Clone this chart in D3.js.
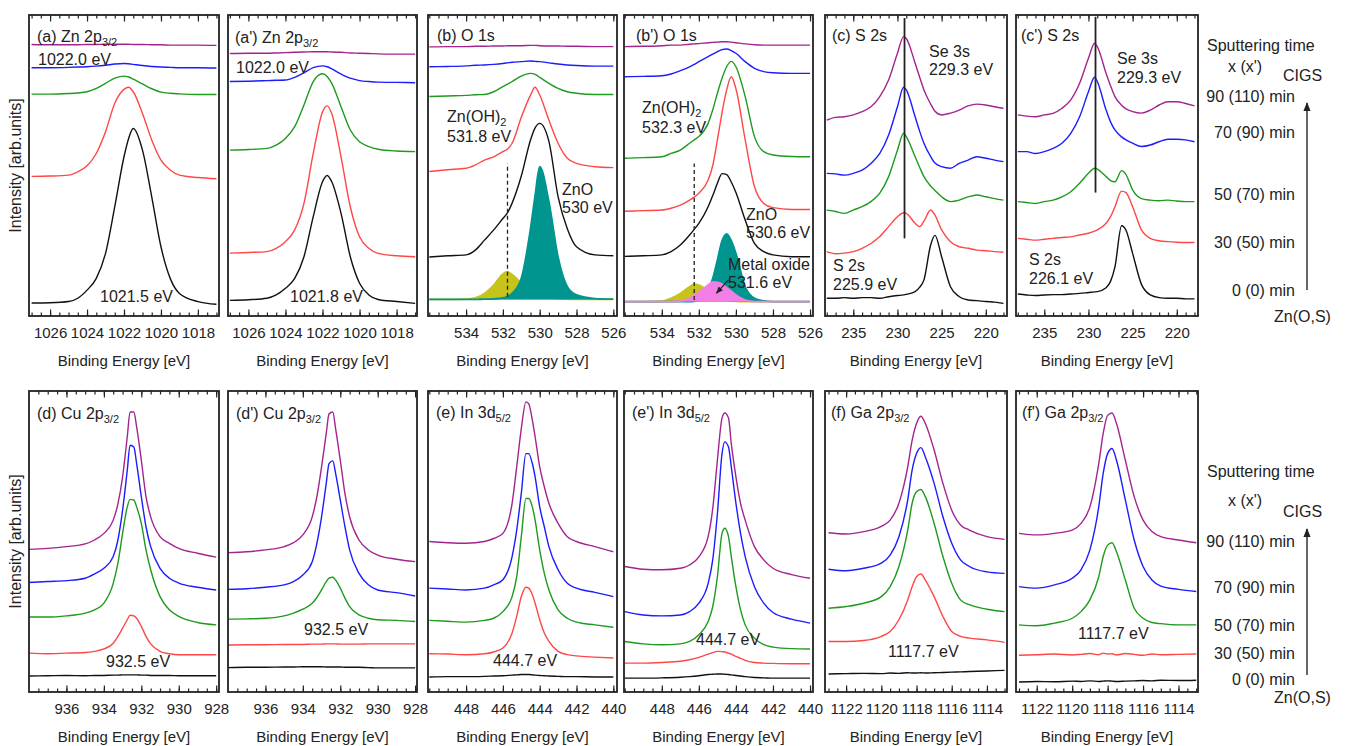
<!DOCTYPE html>
<html>
<head>
<meta charset="utf-8">
<script src="https://cdn.jsdelivr.net/npm/d3@7"></script>
<style>
  body { margin: 0; background: #fff; }
  svg text { font-family: "Liberation Sans", Arial, sans-serif; fill: #222; }
</style>
</head>
<body>
<svg id="chart" width="1354" height="746"></svg>
<script>
// intensities are read off the picture, in % of panel height (0 = bottom, 100 = top)
// every spectra list is ordered by sputtering time: 0, 30, 50, 70, 90 min
var timeLabels = ['0 (0) min', '30 (50) min', '50 (70) min', '70 (90) min', '90 (110) min'];

var ticksZn = [1026, 1024, 1022, 1020, 1018];
var ticksO = [534, 532, 530, 528, 526];
var ticksS = [235, 230, 225, 220];
var ticksCu = [936, 934, 932, 930, 928];
var ticksIn = [448, 446, 444, 442, 440];
var ticksGa = [1122, 1120, 1118, 1116, 1114];

var energyZn = [1027, 1026, 1025, 1024.5, 1024, 1023.5, 1023, 1022.5, 1022, 1021.75, 1021.5, 1021, 1020.5, 1020, 1019.5, 1019, 1018, 1017];
var spectraA = [
  [4.3, 4.4, 4.8, 5.9, 8.6, 12.5, 20.8, 36.3, 52.9, 59.0, 62.3, 55.1, 39.6, 23.0, 12.5, 7.5, 4.8, 3.9],
  [46.4, 46.5, 46.8, 47.9, 49.9, 54.0, 61.2, 70.7, 75.3, 76.0, 74.5, 67.3, 58.5, 51.8, 48.5, 46.8, 46.0, 45.6],
  [73.7, 73.7, 73.9, 74.1, 74.5, 75.6, 77.3, 79.0, 79.7, 79.4, 78.7, 77.1, 75.5, 74.4, 74.0, 73.8, 73.6, 73.6],
  [82.5, 82.5, 82.6, 82.7, 82.8, 83.0, 83.3, 83.7, 83.9, 83.8, 83.6, 83.2, 82.9, 82.7, 82.6, 82.5, 82.5, 82.4],
  [90.2, 90.1, 90.1, 90.1, 90.2, 90.2, 90.3, 90.3, 90.3, 90.3, 90.2, 90.2, 90.1, 90.1, 90.0, 90.0, 90.0, 89.9]
];
var spectraA2 = [
  [5.2, 5.4, 5.9, 7.0, 9.2, 12.5, 19.7, 33.0, 44.6, 46.7, 44.6, 34.1, 19.7, 10.9, 7.0, 5.5, 4.8, 4.2],
  [20.9, 21.1, 21.4, 22.5, 24.7, 28.6, 37.4, 54.0, 67.8, 69.8, 67.2, 52.9, 36.3, 26.3, 22.5, 20.8, 20.0, 19.7],
  [55.1, 55.3, 55.7, 56.8, 59.0, 62.9, 70.1, 77.9, 80.5, 79.6, 77.3, 69.5, 61.8, 57.9, 56.3, 55.4, 54.8, 54.6],
  [77.9, 78.0, 78.2, 78.3, 78.4, 79.3, 80.8, 82.5, 83.1, 82.8, 82.1, 80.4, 79.0, 78.2, 77.9, 77.7, 77.6, 77.5],
  [87.2, 87.3, 87.3, 87.4, 87.5, 87.6, 87.7, 87.8, 87.8, 87.8, 87.7, 87.6, 87.4, 87.3, 87.2, 87.1, 87.0, 87.0]
];

var energyOb = [536, 535, 534, 533.5, 533, 532.5, 532, 531.75, 531.5, 531, 530.5, 530.25, 530, 529.5, 529, 528.5, 528, 527, 526];
var spectraB = [
  [19.6, 20.0, 20.3, 21.9, 25.2, 28.6, 32.4, 34.3, 37.5, 46.5, 58.5, 62.5, 64.0, 58.0, 39.6, 29.0, 23.0, 20.3, 20.0],
  [48.0, 48.6, 49.1, 50.2, 51.8, 52.9, 54.6, 55.5, 57.4, 66.0, 73.4, 76.0, 73.4, 65.1, 57.4, 52.4, 50.7, 49.6, 49.3],
  [72.9, 73.1, 73.3, 73.5, 73.6, 74.5, 76.2, 77.0, 77.9, 79.7, 80.6, 80.3, 79.3, 77.3, 75.6, 74.5, 74.0, 73.6, 73.6],
  [82.8, 82.9, 83.1, 83.3, 83.4, 83.6, 83.9, 84.1, 84.3, 84.5, 84.7, 84.6, 84.5, 84.1, 83.7, 83.4, 83.2, 83.0, 83.0],
  [89.4, 89.5, 89.5, 89.6, 89.6, 89.7, 89.7, 89.8, 89.8, 89.8, 89.9, 89.9, 89.8, 89.7, 89.7, 89.6, 89.6, 89.5, 89.5]
];
var fitB_ZnOH2 = [5.5, 5.5, 5.6, 6.0, 7.5, 10.3, 14.0, 14.7, 13.8, 10.9, 8.1, 7.2, 6.6, 6.0, 5.7, 5.6, 5.5, 5.5, 5.5];
var fitB_ZnO = [5.5, 5.5, 5.5, 5.5, 5.6, 5.7, 6.0, 6.5, 7.5, 12.5, 29.0, 40.0, 49.6, 38.0, 19.5, 9.7, 7.0, 5.8, 5.6];

var energyOb2 = [536, 535, 534, 533.5, 533, 532.5, 532.25, 532, 531.5, 531.25, 531, 530.75, 530.5, 530.25, 530, 529.5, 529, 528.5, 528, 527, 526];
var spectraB2 = [
  [19.8, 20.0, 20.3, 21.4, 23.6, 26.9, 28.8, 30.8, 36.3, 40.0, 44.1, 47.3, 47.0, 44.5, 41.0, 31.9, 24.1, 21.4, 20.3, 19.7, 19.7],
  [34.8, 35.0, 35.2, 35.8, 36.8, 38.5, 39.5, 40.8, 45.2, 50.0, 58.5, 67.5, 75.1, 79.5, 75.5, 58.5, 43.0, 37.4, 36.0, 35.4, 35.4],
  [52.4, 52.6, 52.9, 54.0, 55.1, 57.4, 58.5, 59.6, 64.0, 68.5, 74.0, 79.0, 82.8, 84.6, 82.8, 72.9, 59.6, 54.6, 53.5, 53.0, 52.9],
  [79.5, 79.6, 79.8, 80.4, 81.5, 82.8, 83.6, 84.5, 86.2, 87.0, 87.8, 88.5, 88.7, 88.2, 87.3, 84.5, 82.3, 81.2, 80.8, 80.6, 80.6],
  [89.5, 89.6, 89.8, 90.0, 90.0, 90.3, 90.4, 90.5, 90.8, 90.9, 91.0, 91.1, 91.1, 91.0, 90.8, 90.4, 90.1, 90.0, 90.0, 90.0, 90.0]
];
var fitB2_ZnOH2 = [4.8, 4.8, 4.9, 5.9, 7.5, 9.7, 10.6, 10.3, 8.6, 7.6, 6.4, 5.8, 5.3, 5.0, 4.9, 4.8, 4.8, 4.8, 4.8, 4.8, 4.8];
var fitB2_ZnO = [4.8, 4.8, 4.8, 4.8, 4.8, 4.8, 4.9, 5.3, 8.6, 12.5, 18.6, 25.0, 27.3, 25.0, 20.8, 9.7, 5.9, 5.0, 4.8, 4.8, 4.8];
var fitB2_Metal = [4.8, 4.8, 4.8, 4.8, 4.9, 5.9, 6.8, 7.8, 10.3, 11.3, 11.2, 10.6, 9.4, 8.2, 7.0, 5.3, 4.8, 4.8, 4.8, 4.8, 4.8];

var energyS = [238, 237, 236, 235, 234, 233, 232, 231, 230, 229.3, 229, 228, 227.5, 227, 226.25, 225.75, 225, 224, 223, 222, 221, 220, 219, 218];
var spectraC = [
  [5.9, 5.9, 6.1, 5.9, 6.1, 6.1, 5.9, 6.4, 6.8, 7.0, 7.2, 8.1, 9.5, 12.0, 23.5, 26.8, 19.7, 9.7, 6.4, 5.3, 5.1, 4.8, 4.6, 4.2],
  [21.4, 20.7, 20.9, 21.4, 22.5, 24.1, 26.4, 29.7, 33.0, 34.3, 34.1, 30.8, 29.7, 31.5, 35.2, 33.5, 28.6, 24.7, 23.0, 22.5, 21.9, 21.7, 21.4, 21.2],
  [35.2, 34.7, 34.1, 35.2, 36.3, 38.0, 40.8, 46.3, 55.1, 60.7, 59.6, 52.9, 49.5, 46.3, 43.2, 41.7, 39.6, 38.0, 38.5, 39.6, 40.2, 39.6, 39.0, 38.5],
  [47.4, 47.2, 46.8, 47.4, 48.5, 50.7, 54.0, 60.1, 69.5, 76.0, 75.1, 66.2, 61.5, 57.4, 53.0, 50.8, 49.6, 49.1, 50.7, 51.8, 52.9, 52.4, 51.8, 51.3],
  [65.1, 66.0, 66.2, 66.8, 67.9, 69.5, 72.9, 78.4, 87.3, 92.8, 92.2, 84.0, 79.5, 75.1, 70.5, 68.0, 66.8, 67.4, 68.4, 69.8, 70.4, 70.1, 69.5, 69.0]
];
var spectraC2 = [
  [7.3, 7.0, 6.8, 7.0, 7.1, 7.1, 7.3, 7.5, 7.8, 8.0, 8.1, 9.4, 11.5, 16.3, 30.0, 28.5, 20.8, 10.5, 7.0, 6.1, 5.9, 5.9, 5.7, 5.7],
  [25.8, 25.5, 25.2, 25.5, 25.8, 26.1, 26.3, 26.9, 27.5, 28.2, 28.6, 30.8, 33.0, 36.3, 41.5, 41.0, 36.3, 28.6, 25.8, 25.0, 24.7, 24.5, 24.4, 24.4],
  [38.0, 37.7, 37.4, 38.0, 38.5, 39.6, 41.3, 44.1, 47.4, 49.1, 48.8, 46.3, 45.0, 44.6, 48.3, 47.0, 41.9, 39.0, 38.5, 38.3, 38.5, 38.2, 38.0, 38.0],
  [54.6, 54.6, 54.0, 54.6, 55.7, 57.4, 60.7, 66.2, 74.5, 79.3, 77.9, 68.4, 64.5, 61.8, 59.5, 58.5, 57.4, 56.3, 56.8, 57.9, 58.7, 58.7, 58.5, 57.9],
  [66.8, 66.4, 66.2, 66.8, 67.3, 69.0, 71.8, 77.3, 85.6, 90.6, 89.5, 80.6, 76.5, 72.9, 70.0, 68.8, 67.9, 67.4, 68.4, 70.1, 71.2, 71.2, 70.6, 69.8]
];

var energyCu = [938, 937, 936, 935, 934.5, 934, 933.5, 933.25, 933, 932.75, 932.6, 932.4, 932.25, 932, 931.75, 931.5, 931, 930.5, 930, 929, 928];
var spectraD = [
  [5.3, 5.4, 5.5, 5.4, 5.5, 5.5, 5.6, 5.6, 5.7, 5.7, 5.7, 5.7, 5.7, 5.6, 5.6, 5.5, 5.5, 5.5, 5.4, 5.4, 5.4],
  [12.9, 12.7, 12.9, 13.1, 13.5, 14.3, 16.2, 18.5, 21.2, 24.0, 25.5, 25.3, 24.5, 21.8, 18.5, 16.0, 13.5, 12.7, 12.4, 12.4, 12.4],
  [24.9, 24.9, 25.3, 26.2, 27.3, 29.5, 36.1, 42.8, 52.7, 61.5, 64.0, 63.8, 61.5, 56.0, 47.2, 40.6, 31.7, 27.3, 25.1, 23.1, 22.3],
  [36.4, 36.7, 37.0, 37.8, 39.2, 41.1, 45.0, 50.5, 60.4, 73.7, 82.0, 81.4, 75.9, 64.9, 54.9, 48.3, 41.1, 37.8, 36.2, 34.8, 33.9],
  [47.4, 47.7, 48.3, 49.2, 50.5, 52.7, 57.1, 62.5, 71.5, 84.8, 93.0, 93.0, 88.1, 77.0, 64.9, 58.2, 51.6, 49.4, 47.7, 46.1, 44.8]
];
var spectraD2 = [
  [8.1, 8.2, 8.2, 8.3, 8.3, 8.4, 8.4, 8.4, 8.4, 8.3, 8.3, 8.3, 8.3, 8.3, 8.2, 8.2, 8.2, 8.1, 8.0, 8.0, 8.0],
  [15.6, 15.7, 15.7, 15.8, 15.8, 15.8, 15.9, 15.9, 15.9, 16.0, 16.0, 16.0, 16.0, 15.9, 15.9, 15.9, 15.9, 16.0, 16.0, 16.0, 16.0],
  [24.2, 24.3, 24.5, 25.3, 26.2, 27.5, 29.5, 31.4, 33.9, 36.7, 37.8, 38.1, 37.2, 34.5, 31.2, 28.4, 25.6, 24.5, 24.0, 23.8, 23.4],
  [34.1, 34.3, 34.8, 35.6, 36.7, 38.9, 43.3, 49.4, 58.2, 69.3, 75.9, 76.8, 72.6, 63.8, 54.9, 47.2, 39.4, 35.6, 33.9, 33.0, 31.9],
  [46.3, 46.6, 47.2, 48.3, 49.6, 52.2, 58.2, 64.9, 74.8, 85.9, 92.4, 93.0, 87.5, 77.0, 65.9, 58.2, 50.5, 47.2, 45.5, 44.1, 43.3]
];

var energyIn = [450, 449, 448, 447, 446.5, 446, 445.5, 445.25, 445, 444.75, 444.6, 444.4, 444.25, 444, 443.75, 443.5, 443, 442.5, 442, 441, 440];
var spectraE = [
  [5.0, 5.1, 5.1, 5.2, 5.3, 5.4, 5.6, 5.7, 5.8, 5.8, 5.8, 5.7, 5.6, 5.5, 5.4, 5.3, 5.2, 5.1, 5.1, 5.0, 5.0],
  [12.7, 12.6, 12.4, 12.7, 13.3, 14.6, 19.6, 25.1, 31.7, 34.8, 34.5, 32.3, 29.5, 24.0, 19.6, 16.8, 13.5, 12.4, 12.0, 11.6, 11.3],
  [23.8, 23.5, 23.2, 23.8, 24.5, 26.7, 31.7, 38.3, 51.6, 64.3, 64.3, 61.5, 57.1, 47.2, 39.4, 33.9, 27.3, 24.5, 23.2, 22.3, 21.5],
  [34.5, 34.2, 33.9, 34.5, 35.6, 37.3, 45.0, 53.8, 66.0, 79.2, 79.2, 75.9, 71.5, 61.5, 54.9, 48.3, 40.6, 36.1, 34.5, 33.1, 31.7],
  [50.0, 49.6, 49.4, 50.0, 51.0, 52.7, 62.7, 74.8, 87.5, 96.4, 95.8, 90.3, 84.8, 74.8, 68.2, 62.7, 56.0, 51.6, 50.0, 48.3, 46.6]
];
var spectraE2 = [
  [4.6, 4.6, 4.7, 4.9, 5.1, 5.4, 5.8, 5.9, 6.0, 6.0, 5.9, 5.8, 5.7, 5.5, 5.3, 5.1, 4.8, 4.7, 4.6, 4.6, 4.6],
  [9.6, 9.6, 9.8, 10.2, 10.7, 11.5, 12.6, 13.1, 13.5, 13.4, 13.3, 12.9, 12.6, 11.8, 11.2, 10.5, 9.8, 9.6, 9.5, 9.4, 9.4],
  [16.8, 16.0, 15.7, 16.0, 16.8, 19.0, 23.4, 28.4, 38.3, 52.7, 54.4, 51.6, 45.0, 35.0, 27.3, 22.3, 17.9, 15.7, 14.9, 14.4, 14.3],
  [26.7, 25.6, 25.3, 25.6, 26.7, 29.5, 36.1, 44.0, 59.2, 79.2, 83.1, 81.4, 74.8, 62.7, 52.7, 45.0, 35.0, 29.5, 26.4, 24.2, 22.9],
  [41.7, 40.8, 40.6, 41.1, 42.2, 44.9, 51.6, 61.0, 77.0, 91.0, 92.7, 91.0, 82.5, 71.5, 62.7, 57.1, 48.3, 43.9, 41.1, 39.0, 37.8]
];

var energyGa = [1123, 1122, 1121, 1120, 1119.5, 1119, 1118.5, 1118.25, 1118, 1117.75, 1117.5, 1117, 1116.5, 1116, 1115.5, 1115, 1114, 1113];
var spectraF = [
  [6.0, 6.1, 6.2, 6.1, 6.3, 6.2, 6.4, 6.3, 6.3, 6.4, 6.3, 6.4, 6.5, 6.6, 6.7, 6.8, 7.0, 7.2],
  [16.8, 16.8, 17.1, 18.5, 20.1, 24.0, 30.6, 35.0, 38.3, 39.2, 37.2, 31.7, 25.1, 20.1, 18.5, 17.9, 17.3, 16.5],
  [27.8, 28.4, 29.5, 31.7, 35.0, 41.7, 53.8, 62.7, 66.5, 67.3, 64.9, 56.0, 45.0, 36.1, 30.6, 29.0, 27.5, 26.7],
  [40.8, 40.3, 41.1, 42.8, 45.5, 51.6, 63.8, 73.7, 79.2, 81.2, 78.1, 69.3, 58.2, 49.4, 43.9, 41.7, 39.9, 39.4],
  [52.9, 52.5, 53.3, 55.0, 57.1, 62.7, 74.8, 83.6, 89.2, 91.6, 89.2, 80.4, 69.3, 60.4, 55.5, 53.8, 51.6, 50.7]
];
var spectraF2 = [
  [3.3, 3.5, 3.4, 3.6, 3.5, 3.7, 3.5, 3.6, 3.7, 3.6, 3.5, 3.6, 3.7, 3.8, 3.7, 3.9, 3.8, 3.9],
  [12.2, 12.4, 12.6, 12.3, 12.5, 12.8, 12.4, 12.9, 12.6, 12.7, 12.3, 12.8, 12.5, 12.2, 12.6, 12.4, 12.5, 12.6],
  [22.3, 22.0, 22.9, 24.5, 26.7, 30.6, 38.3, 45.0, 48.8, 49.6, 46.6, 37.2, 27.8, 24.5, 23.1, 22.7, 22.3, 22.3],
  [35.0, 34.5, 35.6, 37.8, 40.6, 47.2, 61.5, 72.6, 79.2, 80.9, 77.0, 63.8, 50.5, 41.7, 37.2, 35.2, 34.1, 33.4],
  [52.7, 52.2, 52.7, 53.8, 56.0, 61.5, 75.9, 85.9, 91.9, 92.7, 89.2, 77.0, 64.9, 57.1, 53.3, 51.6, 50.5, 49.6]
];

// styling
var lineColors = ['#111111', '#ff4747', '#1e9a1e', '#1c1cff', '#a3248e'];
var fillColors = { yellow: '#c6c41c', teal: '#00958f', pink: '#f27ee6' };
var PH = 301;

var panels = [
  { x: 29, y: 15, w: 190, dom: [1027.14, 1016.86], major: ticksZn, minor: 0.5, energy: energyZn, spectra: spectraA,
    title: ['(a) Zn 2p', '3/2'], tx: 8, ty: 27, ylabel: true,
    notes: [['1022.0 eV', 9, 50], ['1021.5 eV', 71, 287]] },
  { x: 228, y: 15, w: 189, dom: [1027.1, 1016.9], major: ticksZn, minor: 0.5, energy: energyZn, spectra: spectraA2,
    title: ["(a') Zn 2p", '3/2'], tx: 7, ty: 28,
    notes: [['1022.0 eV', 8, 58], ['1021.8 eV', 62, 287]] },
  { x: 428, y: 15, w: 189, dom: [536.07, 525.8], major: ticksO, minor: 0.5, energy: energyOb, spectra: spectraB,
    fills: [[fitB_ZnOH2, 'yellow', 5.5], [fitB_ZnO, 'teal', 5.5]],
    vline: [531.75, 6.4, 50.7, true],
    title: ['(b) O 1s', ''], tx: 9, ty: 26,
    notes: [['Zn(OH)', 19, 107, '2'], ['531.8 eV', 19, 127], ['ZnO', 134, 180], ['530 eV', 134, 198]] },
  { x: 624, y: 15, w: 189, dom: [536.04, 525.84], major: ticksO, minor: 0.5, energy: energyOb2, spectra: spectraB2,
    fills: [[fitB2_ZnOH2, 'yellow', 4.8], [fitB2_ZnO, 'teal', 4.8], [fitB2_Metal, 'pink', 4.8]],
    vline: [532.25, 5.3, 50.7, true], arrow: [530.4, 12.0, 531.05, 7.6],
    title: ["(b') O 1s", ''], tx: 12, ty: 26,
    notes: [['Zn(OH)', 18, 98, '2'], ['532.3 eV', 18, 118], ['ZnO', 122, 205], ['530.6 eV', 122, 223],
            ['Metal oxide', 104, 255], ['531.6 eV', 104, 273]] },
  { x: 825, y: 15, w: 182, dom: [238.2, 217.6], major: ticksS, minor: 1, energy: energyS, spectra: spectraC,
    vline: [229.2, 25.8, 99, false],
    title: ['(c) S 2s', ''], tx: 7, ty: 26,
    notes: [['Se 3s', 104, 42], ['229.3 eV', 104, 60], ['S 2s', 8, 256], ['225.9 eV', 8, 275]] },
  { x: 1016, y: 15, w: 182, dom: [238.2, 217.6], major: ticksS, minor: 1, energy: energyS, spectra: spectraC2,
    vline: [229.2, 41.0, 99.4, false],
    title: ["(c') S 2s", ''], tx: 5, ty: 26,
    notes: [['Se 3s', 101, 49], ['229.3 eV', 101, 68], ['S 2s', 13, 250], ['226.1 eV', 13, 269]] },
  { x: 29, y: 391, w: 190, dom: [938.0, 927.85], major: ticksCu, minor: 0.5, energy: energyCu, spectra: spectraD,
    title: ['(d) Cu 2p', '3/2'], tx: 8, ty: 28, ylabel: true,
    notes: [['932.5 eV', 77, 276]] },
  { x: 228, y: 391, w: 189, dom: [938.0, 927.9], major: ticksCu, minor: 0.5, energy: energyCu, spectra: spectraD2,
    title: ["(d') Cu 2p", '3/2'], tx: 8, ty: 28,
    notes: [['932.5 eV', 76, 244]] },
  { x: 428, y: 391, w: 189, dom: [450.07, 439.8], major: ticksIn, minor: 0.5, energy: energyIn, spectra: spectraE,
    title: ['(e) In 3d', '5/2'], tx: 8, ty: 27,
    notes: [['444.7 eV', 65, 275]] },
  { x: 624, y: 391, w: 189, dom: [450.04, 439.84], major: ticksIn, minor: 0.5, energy: energyIn, spectra: spectraE2,
    title: ["(e') In 3d", '5/2'], tx: 8, ty: 27,
    notes: [['444.7 eV', 72, 254]] },
  { x: 825, y: 391, w: 182, dom: [1123.2, 1112.86], major: ticksGa, minor: 0.5, energy: energyGa, spectra: spectraF,
    title: ['(f) Ga 2p', '3/2'], tx: 6, ty: 27,
    notes: [['1117.7 eV', 63, 266]] },
  { x: 1016, y: 391, w: 182, dom: [1123.17, 1112.9], major: ticksGa, minor: 0.5, energy: energyGa, spectra: spectraF2,
    title: ["(f') Ga 2p", '3/2'], tx: 6, ty: 27,
    notes: [['1117.7 eV', 62, 248]] }
];

var svg = d3.select('#chart');

svg.append('defs').append('marker')
  .attr('id', 'head').attr('viewBox', '0 0 10 10').attr('refX', 9).attr('refY', 5)
  .attr('markerWidth', 6).attr('markerHeight', 6).attr('orient', 'auto')
  .append('path').attr('d', 'M0,1 L10,5 L0,9 Z').attr('fill', '#222');

var addText = function (g, txt, x, y, sub, size) {
  var t = g.append('text').attr('x', x).attr('y', y).style('font-size', (size || 16) + 'px').text(txt);
  if (sub) {
    t.append('tspan').attr('dy', 4).style('font-size', '11px').text(sub);
  }
  return t;
};

panels.forEach(function (p) {
  var g = svg.append('g').attr('transform', 'translate(' + p.x + ',' + p.y + ')');
  var x = d3.scaleLinear().domain(p.dom).range([0, p.w]);
  var y = d3.scaleLinear().domain([0, 100]).range([PH, 0]);

  var line = d3.line()
    .x(function (d) { return x(d[0]); })
    .y(function (d) { return y(d[1]); })
    .curve(d3.curveMonotoneX);

  // fitted components (O 1s only): filled area plus its own outline
  (p.fills || []).forEach(function (f) {
    var pts = p.energy.map(function (e, i) { return [e, f[0][i]]; });
    var area = d3.area()
      .x(function (d) { return x(d[0]); })
      .y0(y(f[2]))
      .y1(function (d) { return y(d[1]); })
      .curve(d3.curveMonotoneX);
    g.append('path').attr('d', area(pts)).attr('fill', fillColors[f[1]]);
    g.append('path').attr('d', line(pts))
      .attr('fill', 'none').attr('stroke', fillColors[f[1]]).attr('stroke-width', 1.8);
  });

  p.spectra.forEach(function (vals, k) {
    var pts = p.energy.map(function (e, i) { return [e, vals[i]]; });
    g.append('path').attr('d', line(pts))
      .attr('fill', 'none').attr('stroke', lineColors[k]).attr('stroke-width', 1.4)
      .attr('stroke-linejoin', 'round');
  });

  if (p.vline) {
    g.append('line')
      .attr('x1', x(p.vline[0])).attr('x2', x(p.vline[0]))
      .attr('y1', y(p.vline[1])).attr('y2', y(p.vline[2]))
      .attr('stroke', '#222').attr('stroke-width', p.vline[3] ? 1.3 : 1.8)
      .attr('stroke-dasharray', p.vline[3] ? '4,3' : null);
  }
  if (p.arrow) {
    g.append('line')
      .attr('x1', x(p.arrow[0])).attr('y1', y(p.arrow[1]))
      .attr('x2', x(p.arrow[2])).attr('y2', y(p.arrow[3]))
      .attr('stroke', '#222').attr('stroke-width', 1.2).attr('marker-end', 'url(#head)');
  }

  // ticks, pointing inside, on top and bottom
  var lo = Math.min(p.dom[0], p.dom[1]), hi = Math.max(p.dom[0], p.dom[1]);
  var minorVals = d3.range(Math.ceil(lo / p.minor) * p.minor, hi, p.minor);

  var bMinor = g.append('g').attr('transform', 'translate(0,' + PH + ')')
    .call(d3.axisBottom(x).tickValues(minorVals).tickSize(-3.5).tickFormat(''));
  var tMinor = g.append('g')
    .call(d3.axisTop(x).tickValues(minorVals).tickSize(-3.5).tickFormat(''));
  var bMajor = g.append('g').attr('transform', 'translate(0,' + PH + ')')
    .call(d3.axisBottom(x).tickValues(p.major).tickSize(-6.5).tickPadding(11).tickFormat(d3.format('d')));
  var tMajor = g.append('g')
    .call(d3.axisTop(x).tickValues(p.major).tickSize(-6.5).tickFormat(''));
  [bMinor, tMinor, bMajor, tMajor].forEach(function (a) {
    a.select('.domain').remove();
    a.selectAll('line').attr('stroke', '#222').attr('stroke-width', 1.2);
    a.selectAll('text').attr('fill', '#222')
      .style('font-family', '"Liberation Sans", Arial, sans-serif').style('font-size', '15px');
  });

  g.append('rect').attr('width', p.w).attr('height', PH)
    .attr('fill', 'none').attr('stroke', '#222').attr('stroke-width', 1.8);

  addText(g, p.title[0], p.tx, p.ty, p.title[1]);
  p.notes.forEach(function (n) { addText(g, n[0], n[1], n[2], n[3]); });

  g.append('text').attr('x', p.w / 2).attr('y', PH + 50)
    .attr('text-anchor', 'middle').style('font-size', '15px').text('Binding Energy [eV]');

  if (p.ylabel) {
    g.append('text')
      .attr('transform', 'translate(' + (21 - p.x) + ',' + (PH / 2) + ') rotate(-90)')
      .attr('text-anchor', 'middle').style('font-size', '16px').text('Intensity [arb.units]');
  }
});

// sputtering time legend on the right, one per row
var legendRows = [
  { timeY: [296, 247.7, 200, 138.3, 101.7], arrow: [290, 103], zn: 321.7, head: [50.7, 71.7, 81] },
  { timeY: [685, 659.3, 630.7, 592.7, 546.7], arrow: [675, 529], zn: 702.7, head: [477.3, 506, 516.7] }
];
legendRows.forEach(function (r) {
  var g = svg.append('g');
  addText(g, 'Sputtering time', 1207, r.head[0]);
  addText(g, "x (x')", 1228, r.head[1]);
  addText(g, 'CIGS', 1283, r.head[2]);
  timeLabels.forEach(function (t, i) {
    addText(g, t, 1295, r.timeY[i]).attr('text-anchor', 'end');
  });
  addText(g, 'Zn(O,S)', 1274, r.zn);
  g.append('line').attr('x1', 1307).attr('x2', 1307).attr('y1', r.arrow[0]).attr('y2', r.arrow[1])
    .attr('stroke', '#333').attr('stroke-width', 1.5).attr('marker-end', 'url(#head)');
});
</script>
</body>
</html>
